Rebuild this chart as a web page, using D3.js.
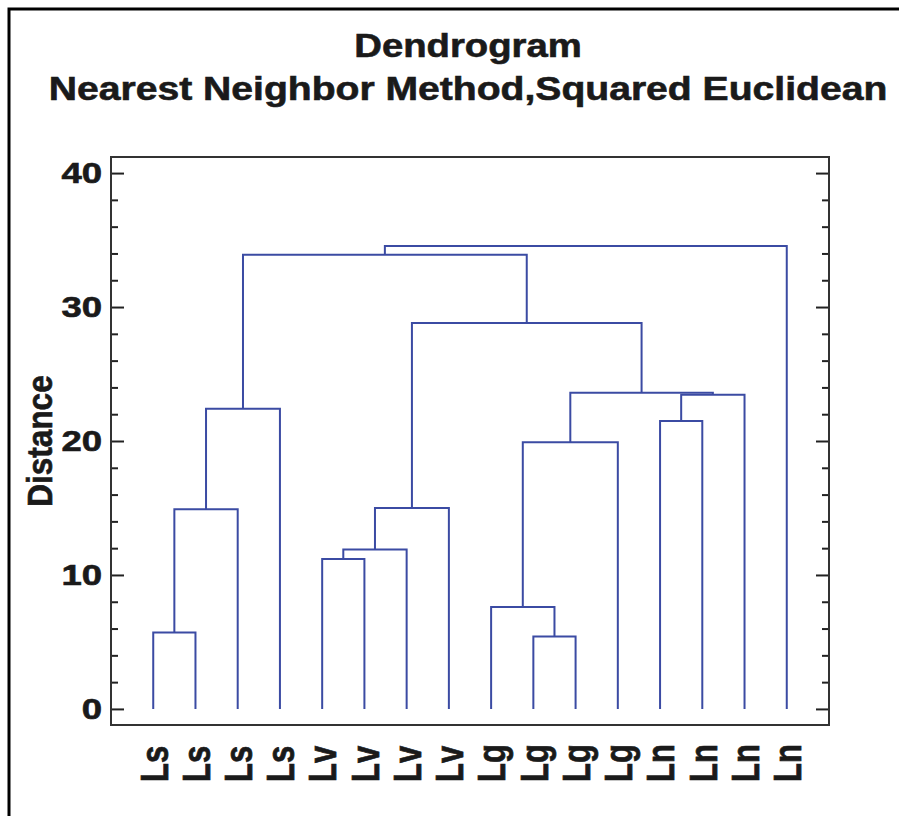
<!DOCTYPE html>
<html>
<head>
<meta charset="utf-8">
<script src="https://cdn.jsdelivr.net/npm/d3@7"></script>
<style>
  body { margin: 0; background: #fff; }
  text { font-family: "Liberation Sans", Arial, sans-serif; font-weight: bold; fill: #1a1a1a;
         stroke: #1a1a1a; stroke-width: 0.6px; }
</style>
</head>
<body>
<svg id="chart" width="899" height="816"></svg>
<script>
// leaf labels, left to right
const leafLabels = ['Ls', 'Ls', 'Ls', 'Ls', 'Lv', 'Lv', 'Lv', 'Lv',
                    'Lg', 'Lg', 'Lg', 'Lg', 'Ln', 'Ln', 'Ln', 'Ln'];

// merges: [childA, childB, distance]; ids 0-15 are leaves, 16+ are merges in order
const merges = [
  [0, 1, 5.7],
  [16, 2, 14.9],
  [17, 3, 22.4],
  [4, 5, 11.2],
  [19, 6, 11.9],
  [20, 7, 15.0],
  [9, 10, 5.4],
  [8, 22, 7.6],
  [23, 11, 19.9],
  [12, 13, 21.5],
  [25, 14, 23.45],
  [24, 26, 23.6],
  [21, 27, 28.8],
  [18, 28, 33.9],
  [29, 15, 34.55]
];

const yMajorTicks = [0, 10, 20, 30, 40];
const yMinorTicks = [2, 4, 6, 8, 12, 14, 16, 18, 22, 24, 26, 28, 32, 34, 36, 38];

const svg = d3.select('#chart');
const plot = { left: 111, right: 829, top: 157, bottom: 725 };
const lineColor = '#3b4ba3';

// outer frame (only top and left edges show in the picture)
svg.append('rect')
  .attr('x', 9).attr('y', 9)
  .attr('width', 920).attr('height', 840)
  .attr('fill', 'none')
  .attr('stroke', '#000')
  .attr('stroke-width', 3);

// title
const titleLines = ['Dendrogram', 'Nearest Neighbor Method,Squared Euclidean'];
svg.selectAll('.title')
  .data(titleLines)
  .join('text')
  .attr('class', 'title')
  .attr('text-anchor', 'middle')
  .attr('font-size', 33)
  .attr('transform', (d, i) => `translate(468,${57 + i * 43}) scale(${i ? 1.185 : 1.16},1)`)
  .text(d => d);

// scales
const x = d3.scalePoint()
  .domain(d3.range(leafLabels.length))
  .range([plot.left, plot.right])
  .padding(1);

const y = d3.scaleLinear()
  .domain([-1.2, 41.2])
  .range([plot.bottom, plot.top]);

// node positions
const nodes = leafLabels.map((d, i) => ({ x: x(i), h: 0 }));
merges.forEach(([a, b, h]) => {
  nodes.push({ a, b, h, x: (nodes[a].x + nodes[b].x) / 2 });
});

// dendrogram links
const g = svg.append('g');
merges.forEach((m, i) => {
  const node = nodes[leafLabels.length + i];
  const ca = nodes[node.a], cb = nodes[node.b];
  g.append('path')
    .attr('d', `M${ca.x},${y(ca.h)}V${y(node.h)}H${cb.x}V${y(cb.h)}`)
    .attr('fill', 'none')
    .attr('stroke', lineColor)
    .attr('stroke-width', 2);
});

// y axes, ticks pointing inward on both sides
const addAxis = (axisFn, xPos, values, size, labels) => {
  const ax = svg.append('g')
    .attr('transform', `translate(${xPos},0)`)
    .call(axisFn(y).tickValues(values).tickSize(-size).tickPadding(9)
      .tickFormat(labels ? d3.format('d') : ''));
  ax.select('.domain').remove();
  ax.selectAll('line').attr('stroke', '#222').attr('stroke-width', 2);
  ax.selectAll('text')
    .attr('x', 0)
    .attr('font-size', 29)
    .attr('fill', '#1a1a1a')
    .attr('font-family', '"Liberation Sans", Arial, sans-serif')
    .attr('transform', 'translate(-9,0) scale(1.26,1)');
};
addAxis(d3.axisLeft, plot.left, yMajorTicks, 13, true);
addAxis(d3.axisLeft, plot.left, yMinorTicks, 7, false);
addAxis(d3.axisRight, plot.right, yMajorTicks, 13, false);
addAxis(d3.axisRight, plot.right, yMinorTicks, 7, false);

// plot frame
svg.append('rect')
  .attr('x', plot.left).attr('y', plot.top)
  .attr('width', plot.right - plot.left)
  .attr('height', plot.bottom - plot.top)
  .attr('fill', 'none')
  .attr('stroke', '#333')
  .attr('stroke-width', 2);

// leaf labels
const xAxis = svg.append('g')
  .attr('transform', `translate(0,${plot.bottom})`)
  .call(d3.axisBottom(x).tickSize(0).tickFormat(i => leafLabels[i]));
xAxis.select('.domain').remove();
xAxis.selectAll('text')
  .attr('x', 0).attr('y', 0)
  .attr('dy', '0.35em')
  .attr('text-anchor', 'start')
  .attr('font-size', 31)
  .attr('fill', '#1a1a1a')
  .attr('font-family', '"Liberation Sans", Arial, sans-serif')
  .attr('transform', 'translate(0,57) scale(1.27,1) rotate(-90)');

// y axis title
svg.append('text')
  .attr('text-anchor', 'middle')
  .attr('font-size', 31.5)
  .attr('transform', 'translate(52,441) scale(1.1,1) rotate(-90)')
  .text('Distance');
</script>
</body>
</html>
